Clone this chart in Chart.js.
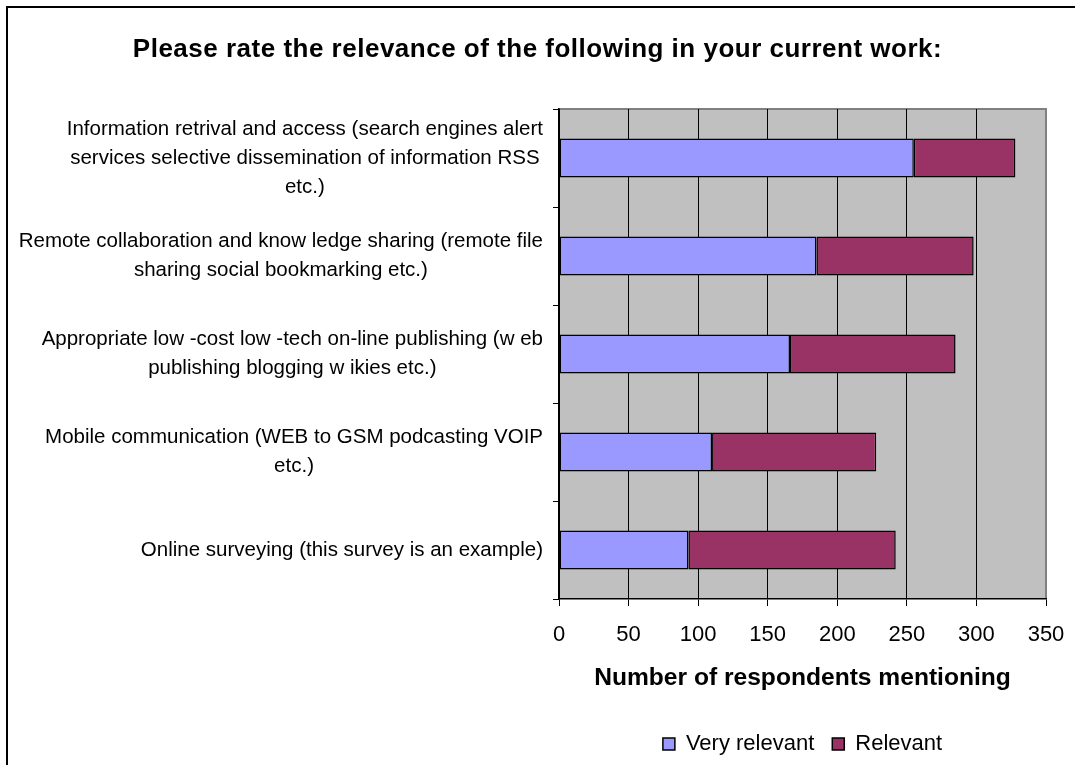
<!DOCTYPE html>
<html>
<head>
<meta charset="utf-8">
<title>Relevance in current work</title>
<script src="https://cdn.jsdelivr.net/npm/chart.js@4"></script>
<style>
  html, body { margin: 0; padding: 0; background: #fff; overflow: hidden; }
  #frame {
    position: absolute; left: 6px; top: 6px;
    width: 1200px; height: 1000px;
    border: 2px solid #000;
  }
  #wrap { position: absolute; left: 0; top: 0; width: 1075px; height: 765px; }
</style>
</head>
<body>
<div id="frame"></div>
<div id="wrap"><canvas id="chart"></canvas></div>
<script>
const chartTitle = 'Please rate the relevance of the following in your current work:'
const categories = [
  ['Information retrival and access (search engines alert', 'services selective dissemination of information RSS', 'etc.)'],
  ['Remote collaboration and know ledge sharing (remote file', 'sharing social bookmarking etc.)'],
  ['Appropriate low -cost low -tech on-line publishing (w eb', 'publishing blogging w ikies etc.)'],
  ['Mobile communication (WEB to GSM podcasting VOIP', 'etc.)'],
  ['Online surveying (this survey is an example)']
]
const veryRelevant = [255, 185, 166, 110, 93]
const relevant = [73, 113, 119, 118, 149]
const xMax = 350
const xStep = 50

const FONT = '"Liberation Sans", Arial, sans-serif'

// grey plot background plus its top/right frame
const plotBackground = {
  id: 'plotBackground',
  beforeDraw(chart) {
    const { ctx, chartArea: a } = chart
    ctx.save()
    ctx.fillStyle = '#c0c0c0'
    ctx.fillRect(a.left, a.top, a.right - a.left, a.bottom - a.top)
    ctx.strokeStyle = '#808080'
    ctx.lineWidth = 2
    ctx.beginPath()
    ctx.moveTo(a.left, a.top)
    ctx.lineTo(a.right, a.top)
    ctx.lineTo(a.right, a.bottom)
    ctx.stroke()
    ctx.restore()
  }
}

// title centred on the whole canvas, category labels right-aligned against the axis
const textLayer = {
  id: 'textLayer',
  afterDraw(chart) {
    const { ctx, width } = chart
    ctx.save()
    ctx.fillStyle = '#000'
    ctx.textAlign = 'center'
    ctx.textBaseline = 'middle'
    ctx.font = 'bold 26px ' + FONT
    if ('letterSpacing' in ctx) ctx.letterSpacing = '0.5px'
    ctx.fillText(chartTitle, width / 2, 50)
    if ('letterSpacing' in ctx) ctx.letterSpacing = '0px'

    const yScale = chart.scales.y
    const lineHeight = 29
    ctx.font = '20.5px ' + FONT
    categories.forEach((lines, i) => {
      const y = yScale.getPixelForValue(i)
      const w = Math.max(...lines.map(l => ctx.measureText(l).width))
      const cx = yScale.right - 16 - w / 2
      const y0 = y - (lines.length - 1) * lineHeight / 2
      lines.forEach((l, k) => ctx.fillText(l, cx, y0 + k * lineHeight))
    })
    ctx.restore()
  }
}

const chart = new Chart(document.getElementById('chart'), {
  type: 'bar',
  data: {
    labels: categories.map(c => c.join(' ')),
    datasets: [{
      label: 'Very relevant',
      data: veryRelevant,
      backgroundColor: '#9999ff',
      borderColor: '#000',
      borderWidth: 1.5,
      borderSkipped: false,
      barPercentage: 0.4,
      categoryPercentage: 1
    }, {
      label: 'Relevant',
      data: relevant,
      backgroundColor: '#993366',
      borderColor: '#000',
      borderWidth: 1.5,
      borderSkipped: false,
      barPercentage: 0.4,
      categoryPercentage: 1
    }]
  },
  options: {
    indexAxis: 'y',
    responsive: true,
    maintainAspectRatio: false,
    animation: false,
    layout: { padding: { left: 0, right: 29, top: 109, bottom: 0 } },
    plugins: {
      title: { display: false },
      legend: {
        position: 'bottom',
        fullSize: false,
        labels: {
          color: '#000',
          font: { family: FONT, size: 22 },
          boxWidth: 12,
          boxHeight: 12,
          padding: 18,
          generateLabels(chart) {
            return chart.data.datasets.map((ds, i) => ({
              text: ds.label,
              fillStyle: ds.backgroundColor,
              strokeStyle: '#000',
              lineWidth: 1.5,
              datasetIndex: i
            }))
          }
        }
      },
      tooltip: { enabled: false }
    },
    scales: {
      x: {
        stacked: true,
        min: 0,
        max: xMax,
        ticks: {
          stepSize: xStep,
          color: '#000',
          padding: 16,
          font: { family: FONT, size: 22 }
        },
        grid: {
          color: c => (c.tick && c.tick.value === xMax ? '#808080' : '#000'),
          tickColor: '#000',
          lineWidth: 1,
          tickLength: 7
        },
        border: { color: '#000', width: 1.5 },
        title: {
          display: true,
          text: 'Number of respondents mentioning',
          color: '#000',
          font: { family: FONT, size: 24.6, weight: 'bold' },
          padding: { top: 0, bottom: 22 }
        },
        afterFit(scale) {
          scale.height = 116
          scale.paddingLeft = 0
          scale.paddingRight = 0
        }
      },
      y: {
        stacked: true,
        ticks: { display: false },
        grid: {
          offset: true,
          drawOnChartArea: false,
          drawTicks: true,
          tickLength: 6,
          color: '#000'
        },
        border: { color: '#000', width: 1.5 },
        afterFit(scale) { scale.width = 559 }
      }
    }
  },
  plugins: [plotBackground, textLayer]
})
</script>
</body>
</html>
